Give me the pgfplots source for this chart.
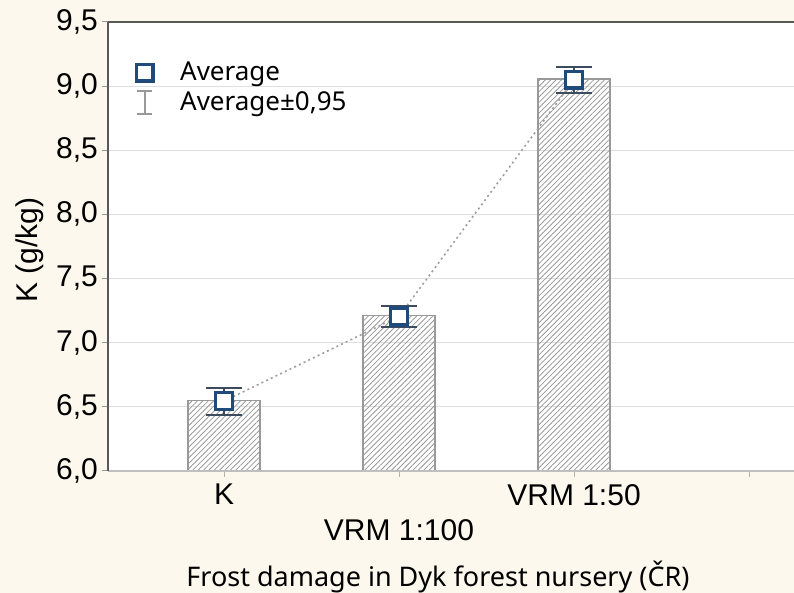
\documentclass[border=0pt]{standalone}
\usepackage{fontspec}
\setmainfont{Liberation Sans}
\newfontfamily\noto{Noto Sans}
\usepackage{pgfplots}
\pgfplotsset{compat=1.18}
\usetikzlibrary{patterns.meta}
\definecolor{cream}{HTML}{FCF8EE}
\definecolor{navy}{HTML}{1F4A7A}
\definecolor{errc}{HTML}{3C4B5E}
\begin{document}
\begin{tikzpicture}
\fill[cream] (0,0) rectangle (397pt,296.5pt);
\useasboundingbox (0,0) rectangle (397pt,296.5pt);
\begin{axis}[
  name=ax,
  at={(54pt,61pt)}, anchor=south west,
  scale only axis, width=343pt, height=224.5pt,
  xmin=0.337, xmax=4.257, ymin=6, ymax=9.5,
  axis background/.style={fill=white},
  axis line style={draw=none},
  ytick={6,6.5,7,7.5,8,8.5,9,9.5},
  yticklabel style={xshift=1.5pt, /pgf/number format/.cd, fixed, fixed zerofill, precision=1, use comma},
  /pgf/number format/assume math mode=true,
  ticklabel style={font=\fontsize{15}{16.5}\selectfont},
  ymajorgrids, major grid style={color=gray!25, line width=0.6pt},
  ytick style={draw=gray!80, line width=0.5pt},
  tick align=outside, major tick length=3pt,
  xtick={1,2,3,4},
  xticklabels={K, {\strut\\VRM 1:100}, VRM 1:50, {}},
  xticklabel style={align=center},
  x tick style={draw=gray!60, line width=0.4pt},
  xtick pos=bottom, ytick pos=left,
  xlabel={Frost damage in Dyk forest nursery (ČR)},
  xlabel style={at={(axis description cs:0.481,0)}, anchor=base, yshift=-58pt, font=\noto\fontsize{13.5}{15}\selectfont},
  ylabel={K (g/kg)},
  ylabel style={at={(axis description cs:0,0.492)}, yshift=39pt, anchor=center, font=\fontsize{15}{16}\selectfont},
  legend style={draw=none, fill=none, at={(axis description cs:0.032,0.93)}, anchor=north west, font=\noto\fontsize{13}{14}\selectfont, row sep=0pt},
  legend cell align=left,
]
\addplot[ybar, bar width=36pt, draw=gray!80, line width=0.6pt,
  pattern={Lines[angle=45, distance=1.9pt, line width=0.4pt]}, pattern color=gray!80, forget plot]
  coordinates {(1,6.55) (2,7.21) (3,9.055)};
\addplot[gray!75, line width=0.8pt, dash pattern=on 1pt off 1.6pt, forget plot]
  coordinates {(1,6.545) (2,7.205) (3,9.05)};
\addplot[only marks, mark=square*, mark size=4.2pt,
  mark options={draw=navy, fill=white, line width=1.7pt},
  error bars/.cd, y dir=both, y explicit,
  error bar style={color=errc, line width=1pt},
  error mark options={rotate=90, color=errc, line width=1pt, mark size=9pt}]
  coordinates {(1,6.545) +- (0,0.105) (2,7.205) +- (0,0.08) (3,9.05) +- (0,0.1)};
\addlegendentry{\hspace{11.5pt}Average}
\addlegendimage{legend image code/.code={
  \draw[gray!80, line width=0.8pt] (0.3cm,-0.2cm) -- (0.3cm,0.2cm);
  \draw[gray!80, line width=0.8pt] (0.17cm,0.2cm) -- (0.43cm,0.2cm);
  \draw[gray!80, line width=0.8pt] (0.17cm,-0.2cm) -- (0.43cm,-0.2cm);
}}
\addlegendentry{\hspace{11.5pt}Average±0,95}
\end{axis}
\draw[gray!50, line width=0.8pt] (ax.south west) -- (ax.south east);
\draw[black!65, line width=0.8pt] (ax.south west) -- (ax.north west);
\draw[black!65, line width=1.2pt] (ax.north west) -- (ax.north east);
\end{tikzpicture}
\end{document}
